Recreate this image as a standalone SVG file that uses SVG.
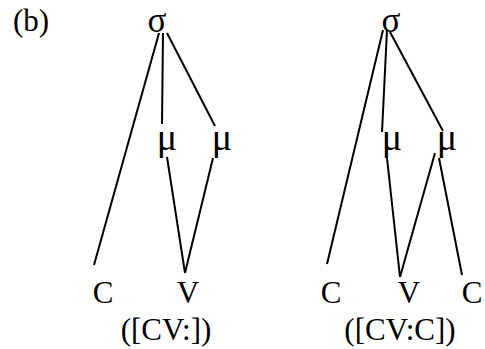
<svg xmlns="http://www.w3.org/2000/svg" width="485" height="349" viewBox="0 0 485 349">
<style>
text{font-family:"Liberation Serif","DejaVu Serif",serif;font-size:31px;fill:#000;text-anchor:middle}
text.g{font-size:38px}
text.s{font-size:35px}
.l{stroke:#000;stroke-width:2;fill:none;stroke-linecap:butt}
</style>
<rect width="485" height="349" fill="#fff"/>
<text x="31" y="31">(b)</text>
<g id="connectors">
<line class="l" x1="159" y1="33" x2="94" y2="265"/>
<line class="l" x1="163" y1="33" x2="162" y2="124"/>
<line class="l" x1="167" y1="33" x2="215" y2="126"/>
<line class="l" x1="167" y1="157" x2="185" y2="273"/>
<line class="l" x1="213" y1="158" x2="185" y2="273"/>
<line class="l" x1="383" y1="30" x2="327" y2="264"/>
<line class="l" x1="387" y1="30" x2="382" y2="132"/>
<line class="l" x1="390" y1="32" x2="443" y2="131"/>
<line class="l" x1="387" y1="158" x2="400" y2="277"/>
<line class="l" x1="435" y1="153" x2="400" y2="277"/>
<line class="l" x1="439" y1="158" x2="462" y2="275"/>
</g>
<g id="sigma1"><text class="s" x="157" y="32">σ</text></g>
<g id="mu1a"><text class="g" x="167" y="150">μ</text></g>
<g id="mu1b"><text class="g" x="222" y="150">μ</text></g>
<g id="c1"><text x="103" y="303">C</text></g>
<g id="v1"><text x="188" y="303">V</text></g>
<g id="label1"><text x="166" y="340">([CV:])</text></g>
<g id="sigma2"><text class="s" x="391" y="32">σ</text></g>
<g id="mu2a"><text class="g" x="392" y="150">μ</text></g>
<g id="mu2b"><text class="g" x="447" y="150">μ</text></g>
<g id="c2"><text x="331" y="303">C</text></g>
<g id="v2"><text x="409" y="303">V</text></g>
<g id="c3"><text x="472" y="303">C</text></g>
<g id="label2"><text x="400" y="340">([CV:C])</text></g>
</svg>
